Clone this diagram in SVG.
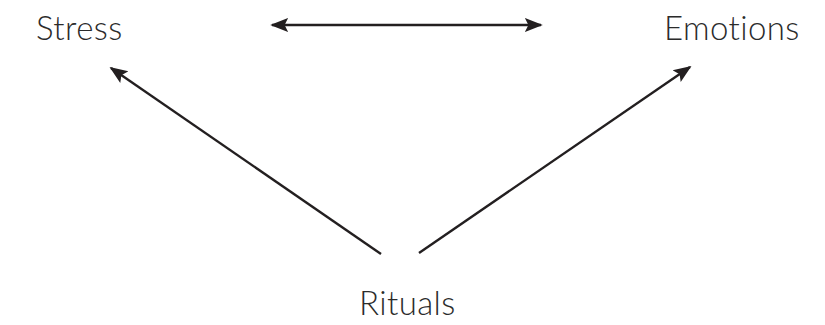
<svg xmlns="http://www.w3.org/2000/svg" width="825" height="325" viewBox="0 0 825 325">
  <style>
    .label { font-family: Lato, "Open Sans", "Liberation Sans", sans-serif; font-size: 33px; font-weight: 300; letter-spacing: 0.4px; fill: #2b2b2b; font-variant-ligatures: none; }
    .edge { stroke: #231f20; stroke-width: 2.4; fill: none; }
  </style>
  <defs>
    <marker id="head" viewBox="0 0 10 10" refX="9" refY="5" markerWidth="7.5" markerHeight="7.5" orient="auto-start-reverse" markerUnits="strokeWidth">
      <path d="M0,1 L10,5 L0,9 L2,5 Z" fill="#231f20"/>
    </marker>
  </defs>
  <rect width="825" height="325" fill="#ffffff"/>
  <g id="stress"><text class="label" x="36" y="40">Stress</text></g>
  <g id="emotions"><text class="label" x="664" y="40">Emotions</text></g>
  <g id="rituals"><text class="label" x="359" y="315">Rituals</text></g>
  <g id="connectors">
    <line class="edge" x1="272" y1="25" x2="541" y2="25" marker-start="url(#head)" marker-end="url(#head)"/>
    <line class="edge" x1="381" y1="254" x2="111" y2="68" marker-end="url(#head)"/>
    <line class="edge" x1="419" y1="253" x2="690" y2="67" marker-end="url(#head)"/>
  </g>
</svg>
